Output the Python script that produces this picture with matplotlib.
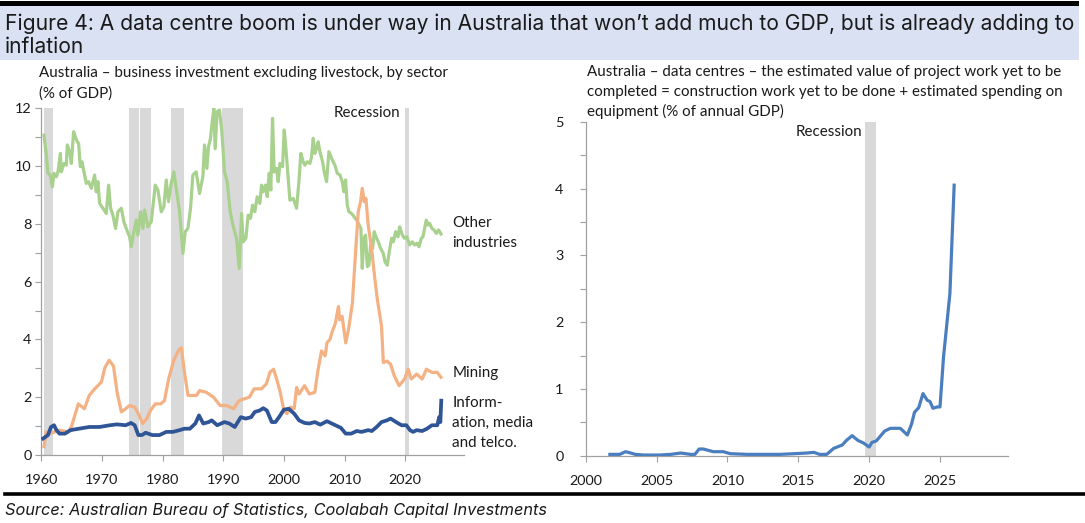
import matplotlib
matplotlib.use("Agg")
import matplotlib.pyplot as plt
from matplotlib import font_manager as fm
from matplotlib.patches import Rectangle
from matplotlib.lines import Line2D

# ---------------- data ----------------
other_years = [1960.44, 1960.83, 1961.1, 1961.49, 1961.82, 1962.09, 1962.48, 1962.75, 1963.14, 1963.3,
               1963.74, 1964.12, 1964.29, 1964.67, 1964.95, 1965.33, 1965.61, 1965.94, 1966.16, 1966.43,
               1966.71, 1967.03, 1967.42, 1967.8, 1968.24, 1968.79, 1969.06, 1969.34, 1969.61, 1970.16,
               1970.71, 1971.1, 1971.43, 1971.81, 1972.25, 1972.64, 1973.19, 1973.62, 1974.01, 1974.56,
               1974.83, 1975.27, 1975.66, 1975.93, 1976.37, 1976.75, 1977.03, 1977.58, 1978.13, 1978.79,
               1979.23, 1979.78, 1980.21, 1980.6, 1980.98, 1981.42, 1981.86, 1982.25, 1982.8, 1983.35,
               1983.73, 1984.17, 1984.61, 1984.99, 1985.54, 1986.09, 1986.64, 1986.91, 1987.3, 1987.57,
               1987.9, 1988.12, 1988.45, 1988.67, 1989.0, 1989.38, 1989.77, 1990.21, 1990.65, 1991.15,
               1991.59, 1992.19, 1992.63, 1993.02, 1993.29, 1993.73, 1994.11, 1994.5, 1994.83, 1995.21,
               1995.6, 1996.04, 1996.31, 1996.59, 1996.97, 1997.25, 1997.58, 1997.85, 1998.13, 1998.4,
               1998.79, 1999.06, 1999.34, 1999.78, 2000.05, 2000.33, 2000.71, 2000.99, 2001.54, 2001.81,
               2002.09, 2002.48, 2002.8, 2003.19, 2003.46, 2003.85, 2004.29, 2004.56, 2004.84, 2005.11,
               2005.39, 2005.66, 2005.94, 2006.38, 2006.65, 2007.04, 2007.42, 2007.86, 2008.41, 2008.8,
               2009.24, 2009.62, 2009.9, 2010.17, 2010.45, 2010.72, 2011.16, 2011.55, 2011.99, 2012.43,
               2012.7, 2012.92, 2013.2, 2013.47, 2013.75, 2014.02, 2014.3, 2014.63, 2014.9, 2015.29,
               2015.57, 2015.95, 2016.39, 2016.67, 2017.05, 2017.38, 2017.77, 2018.04, 2018.43, 2018.81,
               2019.09, 2019.53, 2019.92, 2020.3, 2020.74, 2021.18, 2021.56, 2021.95, 2022.28, 2022.66,
               2022.93, 2023.21, 2023.48, 2023.76, 2024.03, 2024.42, 2024.75, 2025.13, 2025.51, 2025.9]
other_vals = [11.07, 10.38, 9.75, 9.69, 9.28, 9.75, 9.63, 9.8, 10.44, 9.8,
              10.09, 10.03, 10.73, 10.5, 10.09, 11.19, 11.01, 10.84, 10.78, 9.98,
              10.15, 9.8, 9.4, 9.46, 9.23, 9.69, 9.11, 9.46, 8.71, 8.54,
              8.36, 9.34, 8.54, 8.3, 7.84, 8.42, 8.54, 8.07, 7.84, 7.55,
              7.21, 7.73, 8.13, 7.61, 8.42, 7.84, 8.48, 7.9, 8.07, 9.34,
              9.17, 8.42, 8.59, 9.52, 8.77, 9.4, 9.8, 9.23, 8.42, 6.98,
              7.73, 7.84, 8.54, 9.69, 9.8, 9.05, 9.63, 10.73, 9.92, 10.67,
              10.96, 11.42, 12.0, 10.6, 11.88, 11.94, 11.19, 9.8, 9.46, 8.42,
              7.96, 7.5, 6.46, 8.36, 7.38, 7.5, 8.3, 8.19, 8.65, 8.42,
              8.94, 8.71, 9.34, 9.11, 9.34, 8.94, 9.75, 9.17, 11.65, 9.8,
              9.92, 9.46, 10.09, 9.98, 11.25, 10.61, 9.57, 8.82, 8.88, 8.71,
              8.54, 9.46, 10.44, 10.15, 10.03, 10.15, 10.09, 10.32, 10.96, 10.44,
              10.61, 10.84, 10.5, 10.15, 9.8, 9.46, 10.5, 10.27, 10.03, 9.75,
              9.69, 9.46, 9.11, 9.52, 8.65, 8.42, 8.36, 8.25, 8.13, 7.96,
              7.84, 6.46, 7.5, 7.61, 6.52, 6.57, 7.27, 7.15, 7.73, 7.5,
              7.38, 7.15, 6.98, 6.69, 6.57, 7.04, 7.5, 7.38, 7.73, 7.55,
              7.9, 7.61, 7.5, 7.55, 7.27, 7.38, 7.27, 7.33, 7.21, 7.5,
              7.55, 7.84, 8.13, 7.96, 8.02, 7.84, 7.79, 7.67, 7.79, 7.65]

mining_years = [1960.45, 1960.8, 1961.6, 1963.0, 1964.5, 1965.0, 1966.1, 1967.1, 1967.9, 1968.8,
                1969.9, 1970.5, 1971.2, 1971.9, 1972.5, 1973.2, 1973.9, 1974.5, 1975.4, 1976.0,
                1976.7, 1977.4, 1978.0, 1978.8, 1979.7, 1980.3, 1981.0, 1981.8, 1982.7, 1983.1,
                1983.6, 1984.2, 1985.6, 1986.1, 1987.2, 1988.4, 1989.5, 1990.6, 1991.7, 1992.6,
                1993.4, 1994.3, 1995.1, 1996.3, 1997.1, 1997.7, 1998.3, 1998.8, 1999.4, 2000.0,
                2000.5, 2001.1, 2001.7, 2002.1, 2002.5, 2003.4, 2004.2, 2005.1, 2005.6, 2006.2,
                2006.8, 2007.1, 2007.6, 2007.9, 2008.5, 2009.0, 2009.2, 2009.6, 2010.2, 2010.7,
                2011.3, 2011.72, 2012.26, 2012.65, 2012.92, 2013.26, 2013.53, 2013.9, 2014.46, 2015.0,
                2015.4, 2016.1, 2016.4, 2017.0, 2017.6, 2018.2, 2019.0, 2019.9, 2020.5, 2021.0,
                2021.9, 2022.8, 2023.5, 2024.4, 2025.3, 2025.9]
mining_vals = [0.29, 0.8, 0.75, 0.86, 0.8, 1.0, 1.77, 1.6, 2.06, 2.29,
               2.52, 3.03, 3.28, 3.08, 2.17, 1.49, 1.6, 1.71, 1.66, 1.43,
               1.09, 1.26, 1.54, 1.77, 1.77, 1.88, 2.63, 3.25, 3.65, 3.71,
               2.86, 2.06, 2.06, 2.23, 2.17, 2.0, 1.71, 1.71, 1.6, 1.88,
               1.94, 2.0, 2.29, 2.29, 2.46, 2.86, 2.97, 2.63, 2.17, 1.54,
               1.43, 1.66, 1.6, 2.34, 2.11, 2.4, 2.11, 2.17, 2.91, 3.6,
               3.43, 3.88, 4.0, 4.23, 4.57, 5.14, 4.68, 4.8, 3.88, 4.4,
               5.26, 6.69, 8.42, 8.77, 9.23, 8.77, 8.88, 7.96, 7.15, 6.1,
               5.4, 4.46, 3.2, 3.25, 3.14, 2.74, 2.4, 2.63, 2.97, 2.63,
               2.8, 2.63, 2.97, 2.86, 2.86, 2.69]

ict_years = [1960.3, 1961.1, 1961.6, 1962.1, 1962.5, 1963.0, 1963.9, 1964.8, 1966.2, 1967.9,
             1969.6, 1971.3, 1972.5, 1973.9, 1974.8, 1975.4, 1976.0, 1976.6, 1977.2, 1978.3,
             1979.5, 1980.6, 1981.7, 1982.8, 1983.6, 1984.5, 1985.4, 1986.0, 1986.7, 1987.6,
             1988.1, 1989.0, 1990.2, 1991.0, 1991.9, 1992.9, 1993.7, 1994.6, 1995.2, 1996.0,
             1996.6, 1997.2, 1998.0, 1998.6, 1999.2, 2000.0, 2000.8, 2001.7, 2002.5, 2003.4,
             2004.2, 2005.1, 2006.0, 2007.1, 2008.3, 2009.4, 2010.2, 2011.1, 2012.0, 2012.8,
             2013.9, 2014.5, 2015.3, 2016.1, 2017.0, 2017.6, 2018.5, 2019.4, 2020.2, 2020.8,
             2021.3, 2021.9, 2022.8, 2023.6, 2024.4, 2025.3, 2025.6, 2025.8, 2025.95]
ict_vals = [0.57, 0.69, 0.97, 1.03, 0.86, 0.74, 0.74, 0.86, 0.91, 0.97,
            0.97, 1.03, 1.06, 1.03, 1.11, 1.03, 0.69, 0.69, 0.77, 0.69,
            0.69, 0.8, 0.8, 0.86, 0.91, 0.91, 1.09, 1.37, 1.09, 1.14,
            1.2, 1.03, 1.14, 1.09, 0.97, 1.31, 1.26, 1.31, 1.49, 1.54,
            1.62, 1.54, 1.14, 1.14, 1.31, 1.57, 1.6, 1.43, 1.2, 1.11,
            1.09, 1.14, 1.05, 1.17, 1.05, 0.94, 0.74, 0.74, 0.83, 0.8,
            0.86, 0.83, 0.97, 1.14, 1.2, 1.26, 1.14, 1.03, 1.03, 0.86,
            0.8, 0.86, 0.83, 0.91, 1.03, 1.03, 1.31, 1.14, 1.88]

dc_years = [2001.7, 2002.4, 2002.8, 2003.0, 2003.5, 2004.1, 2005.2, 2006.0, 2006.7, 2007.4,
            2007.7, 2008.0, 2008.3, 2009.0, 2009.7, 2010.2, 2011.4, 2012.8, 2013.7, 2014.7,
            2015.6, 2016.1, 2016.5, 2017.0, 2017.5, 2018.1, 2018.4, 2018.8, 2019.2, 2019.6,
            2020.0, 2020.2, 2020.5, 2021.1, 2021.5, 2022.2, 2022.7, 2023.0, 2023.2, 2023.5,
            2023.8, 2024.1, 2024.3, 2024.5, 2024.8, 2025.0, 2025.25, 2025.7, 2026.0]
dc_vals = [0.02, 0.02, 0.06, 0.05, 0.02, 0.01, 0.01, 0.02, 0.04, 0.02,
           0.02, 0.1, 0.1, 0.06, 0.06, 0.03, 0.02, 0.02, 0.02, 0.03,
           0.04, 0.05, 0.02, 0.02, 0.11, 0.16, 0.23, 0.3, 0.23, 0.19,
           0.13, 0.2, 0.22, 0.37, 0.41, 0.41, 0.31, 0.48, 0.65, 0.72,
           0.93, 0.83, 0.81, 0.71, 0.73, 0.73, 1.48, 2.43, 4.05]

recessions_left = [(1960.44, 1961.93), (1974.45, 1976.1), (1976.32, 1978.02),
                   (1981.42, 1983.5), (1989.77, 1993.18), (2019.9, 2020.7)]
recessions_right = [(2019.72, 2020.45)]

left_xticks = [1960, 1970, 1980, 1990, 2000, 2010, 2020]
right_xticks = [2000, 2005, 2010, 2015, 2020, 2025]

title_lines = ["Figure 4: A data centre boom is under way in Australia that won\u2019t add much to GDP, but is already adding to",
               "inflation"]
left_sub = ["Australia \u2013 business investment excluding livestock, by sector", "(% of GDP)"]
right_sub = ["Australia \u2013 data centres \u2013 the estimated value of project work yet to be",
             "completed = construction work yet to be done + estimated spending on",
             "equipment (% of annual GDP)"]
source_text = "Source: Australian Bureau of Statistics, Coolabah Capital Investments"

# ---------------- fonts ----------------
names = {f.name for f in fm.fontManager.ttflist}
def pick(*c):
    for n in c:
        if n in names:
            return n
    return "DejaVu Sans"
def has_italic(n):
    return any(f.name == n and f.style in ("italic", "oblique") for f in fm.fontManager.ttflist)
BODY = pick("Lato", "Open Sans", "Liberation Sans")
HEAD = pick("Inter", "Noto Sans", "Open Sans")
SRC = next((n for n in ["Inter", "Noto Sans", "Open Sans", "Lato", "Liberation Sans"]
            if n in names and has_italic(n)), "DejaVu Sans")
plt.rcParams["font.family"] = [BODY, "DejaVu Sans"]

# ---------------- figure ----------------
W, H = 1085, 523
fig = plt.figure(figsize=(W / 100, H / 100), dpi=100)
fig.patch.set_facecolor("white")
def fx(x): return x / W
def fy(y): return 1 - y / H

fig.patches.append(Rectangle((0, fy(60)), fx(1079), 54 / H, transform=fig.transFigure,
                             facecolor="#dae1f3", edgecolor="none", zorder=0))
fig.patches.append(Rectangle((0, fy(6)), fx(1079), 4.5 / H, transform=fig.transFigure,
                             facecolor="black", edgecolor="none", zorder=1))
fig.lines.append(Line2D([fx(5), 1.0], [fy(494), fy(494)], transform=fig.transFigure,
                        color="black", lw=2.6))

TXT = "#1a1a1a"
AXC = "#a0a0a0"

def style_axes(ax):
    for s in ("top", "right"):
        ax.spines[s].set_visible(False)
    for s in ("left", "bottom"):
        ax.spines[s].set_color(AXC)
        ax.spines[s].set_linewidth(0.9)
    ax.tick_params(axis="both", which="both", direction="out", color=AXC, width=0.8,
                   labelcolor=TXT, labelsize=10.4)
    ax.tick_params(axis="y", which="both", length=4)
    ax.tick_params(axis="x", which="major", length=4, pad=10)
    ax.set_facecolor("none")

# left axes
axL = fig.add_axes([fx(41.3), fy(455), fx(464 - 41.3), (455 - 108.3) / H])
for a, b in recessions_left:
    axL.axvspan(a, b, color="#d9d9d9", lw=0, zorder=0)
axL.plot(other_years, other_vals, color="#a9d18e", lw=2.3, zorder=3, solid_joinstyle="round")
axL.plot(mining_years, mining_vals, color="#f4b183", lw=2.3, zorder=3, solid_joinstyle="round")
axL.plot(ict_years, ict_vals, color="#2f5597", lw=2.7, zorder=4, solid_joinstyle="round")
axL.set_xlim(1960, 2029.7)
axL.set_ylim(0, 12)
axL.set_xticks(left_xticks)
axL.set_yticks(range(0, 13, 2))
axL.set_yticks(range(1, 12, 2), minor=True)
style_axes(axL)
axL.tick_params(axis="y", pad=3)

# right axes
axR = fig.add_axes([fx(585.8), fy(455.7), fx(1008 - 585.8), (455.7 - 121.7) / H])
for a, b in recessions_right:
    axR.axvspan(a, b, color="#d9d9d9", lw=0, zorder=0)
axR.plot(dc_years, dc_vals, color="#4a7ebf", lw=2.3, zorder=3, solid_joinstyle="round")
axR.set_xlim(2000, 2029.8)
axR.set_ylim(0, 5)
axR.set_xticks(right_xticks)
axR.set_yticks(range(0, 6))
axR.set_yticks([0.5, 1.5, 2.5, 3.5, 4.5], minor=True)
style_axes(axR)
axR.tick_params(axis="y", pad=12)

# ---------------- text ----------------
fig.canvas.draw()
R = fig.canvas.get_renderer()

def put_lines(lines, x, ys, target_w, family, base=10, style="normal", color=TXT):
    ts = [fig.text(fx(x), fy(y), s, family=family, fontsize=base, style=style,
                   color=color, ha="left", va="center") for s, y in zip(lines, ys)]
    wmax = max(t.get_window_extent(R).width for t in ts)
    size = base * target_w / wmax
    for t in ts:
        t.set_fontsize(size)
    return size

put_lines(title_lines, 5, [24, 47], 1070, HEAD, base=14)
body_size = put_lines(left_sub, 39.3, [73.3, 93.3], 408, BODY)
put_lines(right_sub, 587, [71.7, 92.3, 111.7], 476, BODY)
put_lines([source_text], 5, [510], 543, SRC, base=12, style="italic")

def lab(s, x, y, ha="left"):
    fig.text(fx(x), fy(y), s, family=BODY, fontsize=body_size, color=TXT, ha=ha, va="center")

lab("Other", 452.5, 223)
lab("industries", 452.5, 243)
lab("Mining", 452.5, 373)
lab("Inform-", 452.5, 403)
lab("ation, media", 452.5, 423)
lab("and telco.", 452.5, 443)
lab("Recession", 400, 113, ha="right")
lab("Recession", 862, 132, ha="right")

fig.savefig("out.png", dpi=100, facecolor="white")
